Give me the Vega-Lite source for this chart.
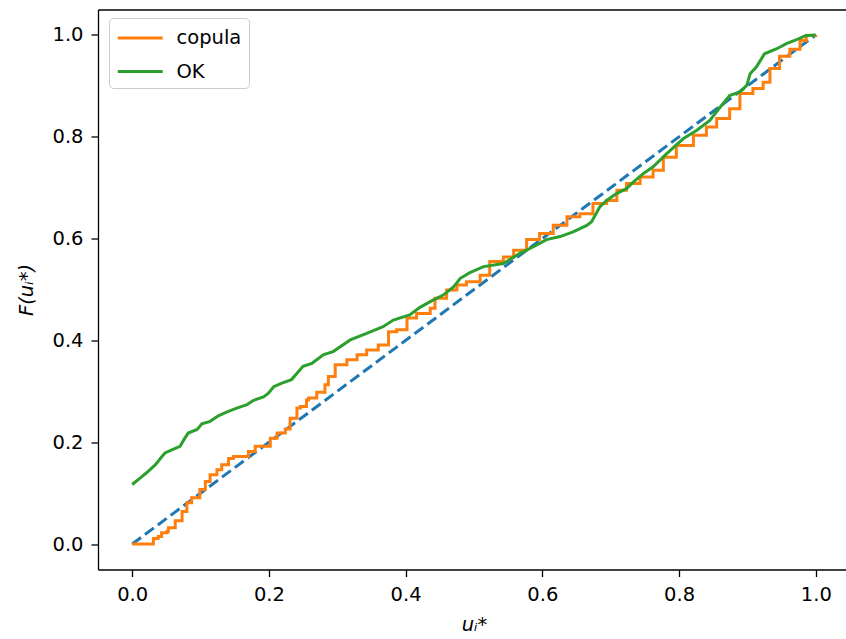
{
  "$schema": "https://vega.github.io/schema/vega-lite/v6.json",
  "autosize": {"type": "none"},
  "padding": {"left": 98, "top": 9.5, "right": 0, "bottom": 69.5},
  "width": 748,
  "height": 560,
  "background": "white",
  "config": {
    "font": "DejaVu Sans",
    "view": {"stroke": null},
    "axis": {
      "labelFont": "DejaVu Sans",
      "labelFontSize": 19.5,
      "labelColor": "#000000",
      "tickColor": "#000000",
      "domainColor": "#000000",
      "tickSize": 7,
      "tickWidth": 1.3,
      "domainWidth": 1.3,
      "grid": false,
      "titleFont": "DejaVu Sans",
      "titleFontSize": 19.5,
      "titleFontWeight": "normal",
      "titleFontStyle": "italic",
      "titleColor": "#000000"
    },
    "legend": {
      "labelFont": "DejaVu Sans",
      "labelFontSize": 19.5,
      "labelColor": "#000000"
    }
  },
  "datasets": {
    "ecdf": [
      {"series": "copula", "u": 0.0, "F": 0.0},
      {"series": "copula", "u": 0.026, "F": 0.0},
      {"series": "copula", "u": 0.031, "F": 0.011},
      {"series": "copula", "u": 0.038, "F": 0.015},
      {"series": "copula", "u": 0.043, "F": 0.022},
      {"series": "copula", "u": 0.051, "F": 0.025},
      {"series": "copula", "u": 0.053, "F": 0.032},
      {"series": "copula", "u": 0.063, "F": 0.046},
      {"series": "copula", "u": 0.073, "F": 0.064},
      {"series": "copula", "u": 0.08, "F": 0.081},
      {"series": "copula", "u": 0.087, "F": 0.091},
      {"series": "copula", "u": 0.097, "F": 0.091},
      {"series": "copula", "u": 0.099, "F": 0.107},
      {"series": "copula", "u": 0.107, "F": 0.123},
      {"series": "copula", "u": 0.114, "F": 0.136},
      {"series": "copula", "u": 0.124, "F": 0.146},
      {"series": "copula", "u": 0.131, "F": 0.156},
      {"series": "copula", "u": 0.141, "F": 0.168},
      {"series": "copula", "u": 0.148, "F": 0.172},
      {"series": "copula", "u": 0.163, "F": 0.172},
      {"series": "copula", "u": 0.17, "F": 0.182},
      {"series": "copula", "u": 0.18, "F": 0.192},
      {"series": "copula", "u": 0.192, "F": 0.192},
      {"series": "copula", "u": 0.202, "F": 0.208},
      {"series": "copula", "u": 0.212, "F": 0.218},
      {"series": "copula", "u": 0.224, "F": 0.226},
      {"series": "copula", "u": 0.231, "F": 0.247},
      {"series": "copula", "u": 0.241, "F": 0.267},
      {"series": "copula", "u": 0.246, "F": 0.27},
      {"series": "copula", "u": 0.255, "F": 0.283},
      {"series": "copula", "u": 0.258, "F": 0.287},
      {"series": "copula", "u": 0.27, "F": 0.298},
      {"series": "copula", "u": 0.282, "F": 0.313},
      {"series": "copula", "u": 0.287, "F": 0.329},
      {"series": "copula", "u": 0.297, "F": 0.352},
      {"series": "copula", "u": 0.314, "F": 0.362},
      {"series": "copula", "u": 0.329, "F": 0.372},
      {"series": "copula", "u": 0.343, "F": 0.381},
      {"series": "copula", "u": 0.36, "F": 0.391},
      {"series": "copula", "u": 0.375, "F": 0.417},
      {"series": "copula", "u": 0.387, "F": 0.421},
      {"series": "copula", "u": 0.402, "F": 0.444},
      {"series": "copula", "u": 0.416, "F": 0.453},
      {"series": "copula", "u": 0.436, "F": 0.463},
      {"series": "copula", "u": 0.443, "F": 0.483},
      {"series": "copula", "u": 0.46, "F": 0.499},
      {"series": "copula", "u": 0.475, "F": 0.509},
      {"series": "copula", "u": 0.489, "F": 0.515},
      {"series": "copula", "u": 0.509, "F": 0.528},
      {"series": "copula", "u": 0.523, "F": 0.555},
      {"series": "copula", "u": 0.543, "F": 0.564},
      {"series": "copula", "u": 0.558, "F": 0.577},
      {"series": "copula", "u": 0.577, "F": 0.598},
      {"series": "copula", "u": 0.596, "F": 0.61},
      {"series": "copula", "u": 0.616, "F": 0.626},
      {"series": "copula", "u": 0.636, "F": 0.643},
      {"series": "copula", "u": 0.655, "F": 0.649},
      {"series": "copula", "u": 0.674, "F": 0.669},
      {"series": "copula", "u": 0.694, "F": 0.675},
      {"series": "copula", "u": 0.709, "F": 0.695},
      {"series": "copula", "u": 0.723, "F": 0.708},
      {"series": "copula", "u": 0.743, "F": 0.721},
      {"series": "copula", "u": 0.762, "F": 0.734},
      {"series": "copula", "u": 0.777, "F": 0.76},
      {"series": "copula", "u": 0.796, "F": 0.783},
      {"series": "copula", "u": 0.821, "F": 0.803},
      {"series": "copula", "u": 0.84, "F": 0.819},
      {"series": "copula", "u": 0.855, "F": 0.836},
      {"series": "copula", "u": 0.874, "F": 0.855},
      {"series": "copula", "u": 0.889, "F": 0.885},
      {"series": "copula", "u": 0.908, "F": 0.895},
      {"series": "copula", "u": 0.923, "F": 0.907},
      {"series": "copula", "u": 0.933, "F": 0.934},
      {"series": "copula", "u": 0.947, "F": 0.958},
      {"series": "copula", "u": 0.962, "F": 0.972},
      {"series": "copula", "u": 0.977, "F": 0.989},
      {"series": "copula", "u": 0.986, "F": 0.999},
      {"series": "copula", "u": 1.0, "F": 1.0},
      {"series": "OK", "u": 0.0, "F": 0.117},
      {"series": "OK", "u": 0.012, "F": 0.13},
      {"series": "OK", "u": 0.021, "F": 0.14},
      {"series": "OK", "u": 0.034, "F": 0.156},
      {"series": "OK", "u": 0.043, "F": 0.171},
      {"series": "OK", "u": 0.048, "F": 0.179},
      {"series": "OK", "u": 0.058, "F": 0.185},
      {"series": "OK", "u": 0.07, "F": 0.192},
      {"series": "OK", "u": 0.077, "F": 0.208},
      {"series": "OK", "u": 0.082, "F": 0.218},
      {"series": "OK", "u": 0.095, "F": 0.225},
      {"series": "OK", "u": 0.102, "F": 0.236},
      {"series": "OK", "u": 0.114, "F": 0.241},
      {"series": "OK", "u": 0.126, "F": 0.252},
      {"series": "OK", "u": 0.138, "F": 0.259},
      {"series": "OK", "u": 0.153, "F": 0.267},
      {"series": "OK", "u": 0.168, "F": 0.274},
      {"series": "OK", "u": 0.177, "F": 0.282},
      {"series": "OK", "u": 0.192, "F": 0.289},
      {"series": "OK", "u": 0.199, "F": 0.296},
      {"series": "OK", "u": 0.207, "F": 0.309},
      {"series": "OK", "u": 0.219, "F": 0.316},
      {"series": "OK", "u": 0.233, "F": 0.323},
      {"series": "OK", "u": 0.25, "F": 0.349},
      {"series": "OK", "u": 0.263, "F": 0.355},
      {"series": "OK", "u": 0.28, "F": 0.372},
      {"series": "OK", "u": 0.294, "F": 0.378},
      {"series": "OK", "u": 0.319, "F": 0.401},
      {"series": "OK", "u": 0.343, "F": 0.414},
      {"series": "OK", "u": 0.367, "F": 0.427},
      {"series": "OK", "u": 0.382, "F": 0.44},
      {"series": "OK", "u": 0.406, "F": 0.45},
      {"series": "OK", "u": 0.421, "F": 0.465},
      {"series": "OK", "u": 0.44, "F": 0.479},
      {"series": "OK", "u": 0.455, "F": 0.489},
      {"series": "OK", "u": 0.47, "F": 0.505},
      {"series": "OK", "u": 0.48, "F": 0.522},
      {"series": "OK", "u": 0.494, "F": 0.533},
      {"series": "OK", "u": 0.514, "F": 0.545},
      {"series": "OK", "u": 0.543, "F": 0.551},
      {"series": "OK", "u": 0.567, "F": 0.571},
      {"series": "OK", "u": 0.587, "F": 0.584},
      {"series": "OK", "u": 0.606, "F": 0.598},
      {"series": "OK", "u": 0.626, "F": 0.604},
      {"series": "OK", "u": 0.645, "F": 0.613},
      {"series": "OK", "u": 0.665, "F": 0.626},
      {"series": "OK", "u": 0.672, "F": 0.633},
      {"series": "OK", "u": 0.684, "F": 0.662},
      {"series": "OK", "u": 0.694, "F": 0.675},
      {"series": "OK", "u": 0.709, "F": 0.689},
      {"series": "OK", "u": 0.723, "F": 0.698},
      {"series": "OK", "u": 0.733, "F": 0.711},
      {"series": "OK", "u": 0.748, "F": 0.728},
      {"series": "OK", "u": 0.762, "F": 0.741},
      {"series": "OK", "u": 0.782, "F": 0.767},
      {"series": "OK", "u": 0.806, "F": 0.796},
      {"series": "OK", "u": 0.826, "F": 0.813},
      {"series": "OK", "u": 0.845, "F": 0.832},
      {"series": "OK", "u": 0.86, "F": 0.858},
      {"series": "OK", "u": 0.874, "F": 0.881},
      {"series": "OK", "u": 0.889, "F": 0.888},
      {"series": "OK", "u": 0.899, "F": 0.901},
      {"series": "OK", "u": 0.904, "F": 0.924},
      {"series": "OK", "u": 0.913, "F": 0.937},
      {"series": "OK", "u": 0.925, "F": 0.963},
      {"series": "OK", "u": 0.943, "F": 0.973},
      {"series": "OK", "u": 0.957, "F": 0.983},
      {"series": "OK", "u": 0.972, "F": 0.991},
      {"series": "OK", "u": 0.986, "F": 0.999},
      {"series": "OK", "u": 1.0, "F": 1.0}
    ],
    "diagonal": [
      {"u": 0.0, "F": 0.0},
      {"u": 1.0, "F": 1.0}
    ]
  },
  "layer": [
    {
      "data": {"name": "diagonal"},
      "mark": {"type": "line", "color": "#1f77b4", "strokeWidth": 3, "strokeDash": [11, 5]},
      "encoding": {
        "x": {
          "field": "u", "type": "quantitative",
          "scale": {"domain": [-0.05, 1.0442], "nice": false, "zero": false},
          "axis": {"orient": "top", "labels": false, "ticks": false, "title": null}
        },
        "y": {
          "field": "F", "type": "quantitative",
          "scale": {"domain": [-0.05, 1.05], "nice": false, "zero": false},
          "axis": {
            "values": [0, 0.2, 0.4, 0.6, 0.8, 1.0], "format": ".1f",
            "labelPadding": 8,
            "title": "F(uᵢ*)", "titleAngle": 270, "titleBaseline": "alphabetic",
            "titleX": -65.5, "titleY": 280
          }
        }
      }
    },
    {
      "data": {"name": "ecdf"},
      "transform": [{"filter": "datum.series === 'copula'"}],
      "mark": {"type": "line", "strokeWidth": 3, "interpolate": "step-after"},
      "encoding": {
        "x": {
          "field": "u", "type": "quantitative",
          "axis": {
            "values": [0, 0.2, 0.4, 0.6, 0.8, 1.0], "format": ".1f",
            "labelPadding": 9,
            "title": "uᵢ*", "titleBaseline": "alphabetic",
            "titleX": 376, "titleY": 61
          }
        },
        "y": {
          "field": "F", "type": "quantitative",
          "axis": {
            "values": [0, 0.2, 0.4, 0.6, 0.8, 1.0], "format": ".1f",
            "labelPadding": 8,
            "title": "F(uᵢ*)", "titleAngle": 270, "titleBaseline": "alphabetic",
            "titleX": -65.5, "titleY": 280
          }
        },
        "color": {
          "field": "series", "type": "nominal",
          "scale": {"domain": ["copula", "OK"], "range": ["#ff7f0e", "#2ca02c"]},
          "legend": {
            "title": null, "orient": "none", "legendX": 11, "legendY": 8.5,
            "symbolType": "M-1,0H3", "symbolSize": 506, "symbolStrokeWidth": 3,
            "labelOffset": 34.5, "padding": 7, "rowPadding": 10.5,
            "strokeColor": "#cccccc", "fillColor": "rgba(255,255,255,0.8)",
            "cornerRadius": 4
          }
        }
      }
    },
    {
      "data": {"name": "ecdf"},
      "transform": [{"filter": "datum.series === 'OK'"}],
      "mark": {"type": "line", "strokeWidth": 3},
      "encoding": {
        "x": {"field": "u", "type": "quantitative", "axis": null},
        "y": {"field": "F", "type": "quantitative"},
        "color": {"field": "series", "type": "nominal"}
      }
    }
  ],
  "resolve": {"axis": {"x": "independent"}}
}
